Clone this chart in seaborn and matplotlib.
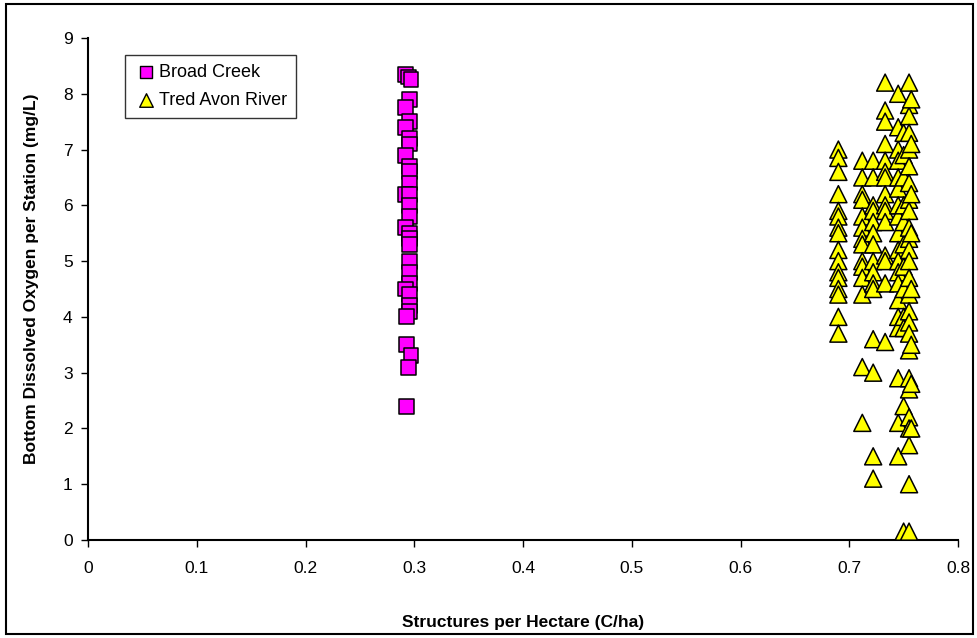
import matplotlib
matplotlib.use("Agg")
import matplotlib.pyplot as plt
import seaborn as sns
import pandas as pd
from matplotlib.patches import Rectangle

# Broad Creek data
bc_x = [0.292, 0.295, 0.297, 0.296, 0.292, 0.296, 0.292, 0.296, 0.296, 0.292, 0.296, 0.296,
        0.296, 0.292, 0.296, 0.296, 0.296, 0.292, 0.296, 0.296, 0.296, 0.296, 0.296, 0.296,
        0.292, 0.296, 0.296, 0.296, 0.293, 0.293, 0.297, 0.295, 0.293]
bc_y = [8.35, 8.3, 8.25, 7.9, 7.75, 7.5, 7.4, 7.2, 7.1, 6.9, 6.7, 6.6,
        6.4, 6.2, 6.2, 6.0, 5.8, 5.6, 5.5, 5.4, 5.3, 5.0, 4.8, 4.6,
        4.5, 4.4, 4.2, 4.1, 4.0, 3.5, 3.3, 3.1, 2.4]

# Tred Avon River data (by column of structures per hectare)
ta_x_cols = [0.690, 0.712, 0.722, 0.733, 0.745, 0.750, 0.755, 0.757]
ta_y_cols = [
    [7.0, 6.85, 6.6, 6.2, 5.9, 5.8, 5.6, 5.5, 5.2, 5.0, 4.8, 4.7, 4.5, 4.4, 4.0, 3.7],
    [6.8, 6.5, 6.2, 6.1, 5.8, 5.6, 5.4, 5.3, 5.0, 4.9, 4.7, 4.4, 3.1, 2.1],
    [6.8, 6.5, 6.0, 5.9, 5.7, 5.5, 5.3, 5.0, 4.8, 4.6, 4.5, 3.6, 3.0, 1.5, 1.1],
    [8.2, 7.7, 7.5, 7.1, 6.8, 6.6, 6.5, 6.2, 6.0, 5.9, 5.7, 5.1, 5.0, 4.6, 3.55],
    [8.0, 7.4, 7.0, 6.8, 6.5, 6.3, 6.0, 5.8, 5.5, 5.2, 5.0, 4.8, 4.6, 4.3, 4.0, 3.8, 2.9, 2.1, 1.5],
    [7.3, 6.9, 6.5, 6.0, 5.7, 5.3, 4.9, 4.5, 4.0, 3.8, 2.4, 0.15],
    [8.2, 7.8, 7.6, 7.3, 7.0, 6.7, 6.4, 6.1, 5.9, 5.6, 5.4, 5.2, 5.0, 4.7, 4.4, 4.1, 3.9, 3.7,
     3.4, 2.9, 2.7, 2.2, 2.0, 1.7, 1.0, 0.15],
    [7.9, 7.1, 6.2, 5.5, 4.5, 3.5, 2.8, 2.0],
]

series_names = ["Broad Creek", "Tred Avon River"]
x_ticks = [0, 0.1, 0.2, 0.3, 0.4, 0.5, 0.6, 0.7, 0.8]
y_ticks = list(range(0, 10))

rows = []
for x, y in zip(bc_x, bc_y):
    rows.append((x, y, series_names[0]))
for xc, ys in zip(ta_x_cols, ta_y_cols):
    for y in ys:
        rows.append((xc, y, series_names[1]))
df = pd.DataFrame(rows, columns=["x", "y", "site"])

sns.set_theme(style="white")
plt.rcParams["font.family"] = ["Liberation Sans", "DejaVu Sans"]
plt.rcParams["text.color"] = "black"
plt.rcParams["axes.labelcolor"] = "black"
plt.rcParams["xtick.color"] = "black"
plt.rcParams["ytick.color"] = "black"

fig = plt.figure(figsize=(9.77, 6.38), dpi=100)
ax = fig.add_axes([88 / 977, 1 - 540 / 638, 870 / 977, 502 / 638])

sns.scatterplot(data=df, x="x", y="y", hue="site", style="site",
                hue_order=series_names, style_order=series_names,
                palette={"Broad Creek": "#FF00FF", "Tred Avon River": "#FFFF00"},
                markers={"Broad Creek": "s", "Tred Avon River": "^"},
                size="site", sizes={"Broad Creek": 115, "Tred Avon River": 150},
                edgecolor="black", linewidth=1.1, ax=ax, zorder=3,
                legend=False)

# legend proxies
ax.scatter([], [], marker="s", s=80, c="#FF00FF", edgecolors="black", linewidths=1.0,
           label=series_names[0])
ax.scatter([], [], marker="^", s=95, c="#FFFF00", edgecolors="black", linewidths=1.0,
           label=series_names[1])

ax.set_xlim(0, 0.8)
ax.set_ylim(0, 9)
ax.set_xticks(x_ticks)
ax.set_xticklabels([f"{t:g}" for t in x_ticks], fontsize=12.5)
ax.set_yticks(y_ticks)
ax.set_yticklabels([str(t) for t in y_ticks], fontsize=12.5)
ax.tick_params(axis="both", direction="out", length=5, width=1, color="black",
               bottom=True, left=True, pad=6, labelcolor="black")
ax.tick_params(axis="x", pad=10)
for side in ["top", "right"]:
    ax.spines[side].set_visible(False)
for side in ["left", "bottom"]:
    ax.spines[side].set_color("black")
    ax.spines[side].set_linewidth(1.5)

ax.set_xlabel("Structures per Hectare (C/ha)", fontsize=12.5, fontweight="bold", labelpad=28)
ax.set_ylabel("Bottom Dissolved Oxygen per Station (mg/L)", fontsize=12.5, fontweight="bold")
ax.yaxis.set_label_coords(-0.056, 0.52)

leg = ax.legend(loc="upper left", bbox_to_anchor=(0.042, 0.966), fontsize=13,
                frameon=True, fancybox=False, edgecolor="black", borderpad=0.5,
                handletextpad=0.0, labelspacing=0.6, handlelength=1.4, borderaxespad=0)
leg.get_frame().set_linewidth(1.0)

fig.patches.append(Rectangle((0.006, 0.006), 0.99, 0.988, transform=fig.transFigure,
                             fill=False, edgecolor="black", linewidth=1.5))

fig.savefig("out.png", dpi=100, facecolor="white")
